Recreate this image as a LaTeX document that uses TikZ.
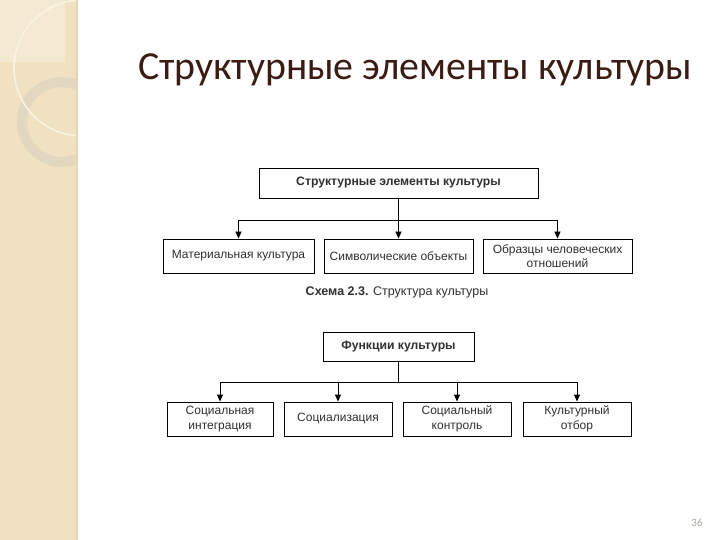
\documentclass[tikz,border=0pt]{standalone}
\usepackage{fontspec}
\setmainfont{Liberation Sans}
\newfontfamily\titlefont{Carlito}
\usetikzlibrary{arrows.meta}
\definecolor{band}{HTML}{EFE1C1}
\definecolor{bandlight}{HTML}{F4EAD3}
\definecolor{bandedge}{HTML}{E8D4B2}
\definecolor{ringc}{HTML}{E2D8C0}
\definecolor{arcc}{HTML}{FAF3E2}
\definecolor{titlec}{HTML}{3A1C14}
\definecolor{numc}{HTML}{A8A8A0}
\definecolor{textc}{HTML}{303030}
\tikzset{
  box/.style={draw=black, line width=0.9pt, inner sep=0pt, align=center, text=textc, font=\fontsize{12}{14.5}\selectfont},
  boldbox/.style={box, font=\bfseries\fontsize{12.2}{14}\selectfont},
  conn/.style={line width=0.9pt},
  arr/.style={line width=0.9pt, -{Triangle[width=6pt,length=7pt]}},
}
\begin{document}
\begin{tikzpicture}[x=1pt,y=-1pt]
\useasboundingbox (0,0) rectangle (720,540);
\fill[white] (0,0) rectangle (720,540);
% left band
\begin{scope}
\clip (0,0) rectangle (78,540);
\fill[band] (0,0) rectangle (78,540);
\fill[bandlight] (0,0) rectangle (65,62);
\draw[ringc, line width=10pt] (62,122) circle[radius=40];
\draw[arcc, line width=1.6pt] (82,68) circle[radius=68];
\fill[bandedge] (75.5,0) rectangle (78,540);
\end{scope}
% title
\node[font=\titlefont\fontsize{39.8}{42}\selectfont, text=titlec] (title) at (415,70) {Структурные элементы культуры};
% upper scheme
\node[boldbox, minimum width=279pt, minimum height=30pt] (s0) at (398.5,183) {Структурные элементы культуры};
\node[box, minimum width=151pt, minimum height=34pt] (s1) at (238.5,256) {Материальная культура};
\node[box, minimum width=149pt, minimum height=34pt] (s2) at (398.5,256) {Символические объекты};
\node[box, minimum width=149pt, minimum height=34pt] (s3) at (557.5,256) {Образцы человеческих\\отношений};
\coordinate (sj) at (398.5,220);
\draw[arr] (s0.south) -- (s2.north);
\draw[arr] (sj) -| (s1.north);
\draw[arr] (sj) -| (s3.north);
\node[font=\fontsize{12.5}{14}\selectfont, text=textc] (cap) at (397,292) {\textbf{Схема 2.3.} Структура культуры};
% lower scheme
\node[boldbox, minimum width=151pt, minimum height=29pt] (f0) at (398.5,346.5) {Функции культуры};
\node[box, minimum width=106pt, minimum height=34pt] (f1) at (220,419) {Социальная\\интеграция};
\node[box, minimum width=108pt, minimum height=34pt] (f2) at (338,419) {Социализация};
\node[box, minimum width=108pt, minimum height=34pt] (f3) at (457,419) {Социальный\\контроль};
\node[box, minimum width=108pt, minimum height=34pt] (f4) at (577,419) {Культурный\\отбор};
\coordinate (fj) at (398.5,382);
\draw[conn] (f0.south) -- (fj);
\draw[arr] (fj) -| (f1.north);
\draw[arr] (fj) -| (f2.north);
\draw[arr] (fj) -| (f3.north);
\draw[arr] (fj) -| (f4.north);
% page number
\node[font=\titlefont\fontsize{11}{12}\selectfont, text=numc] (num) at (697,523) {36};
\end{tikzpicture}
\end{document}
